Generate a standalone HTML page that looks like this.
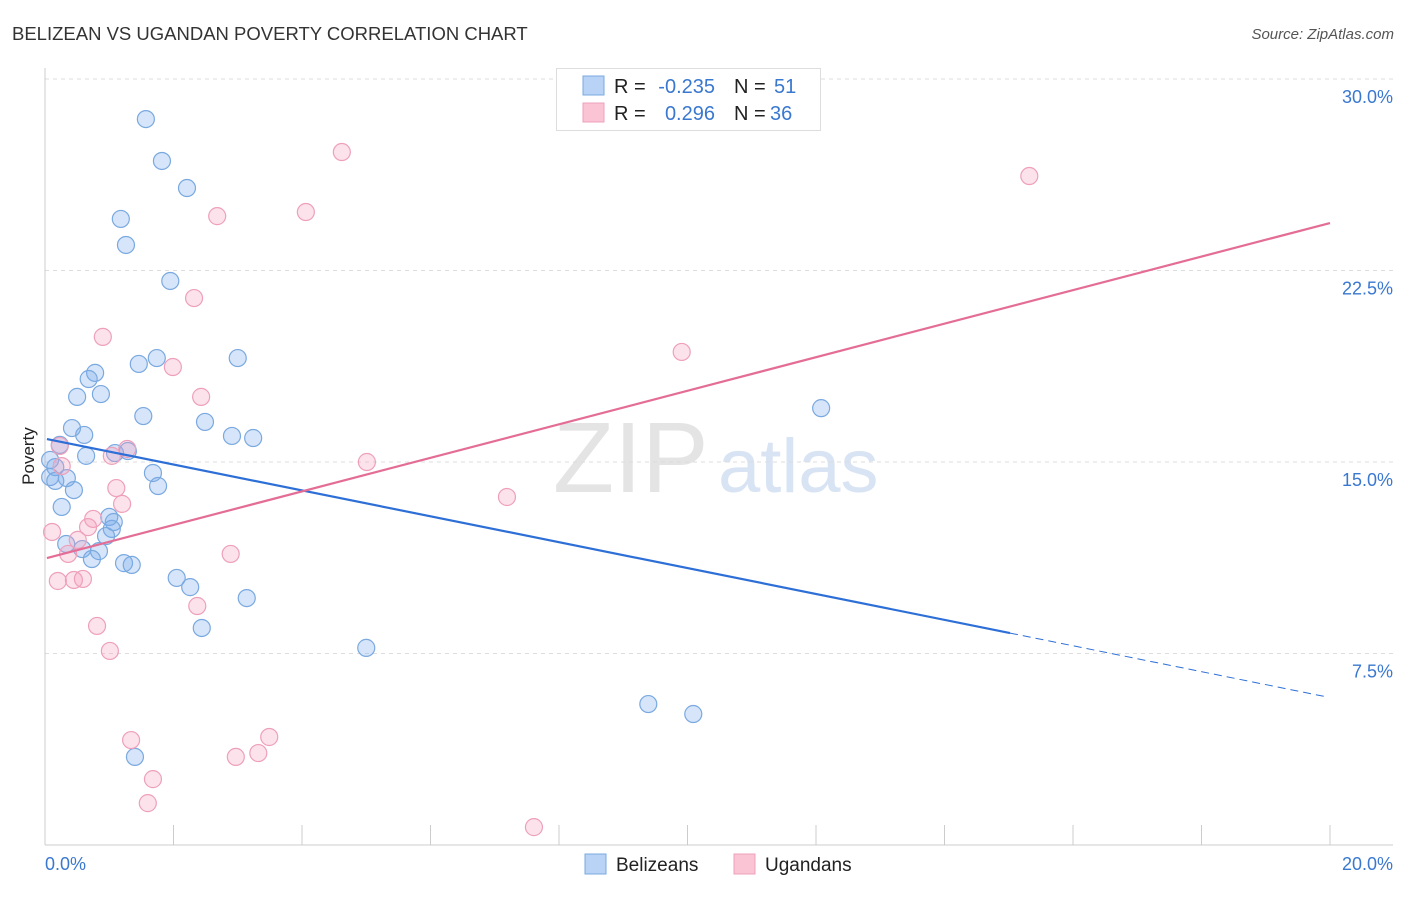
<!DOCTYPE html>
<html><head><meta charset="utf-8"><style>
body{margin:0;background:#fff;font-family:"Liberation Sans",sans-serif;}
svg text{font-family:"Liberation Sans",sans-serif;}
</style></head><body>
<svg id="c" width="1406" height="892" xmlns="http://www.w3.org/2000/svg">
<text x="12" y="40" font-size="18.5" fill="#333">BELIZEAN VS UGANDAN POVERTY CORRELATION CHART</text>
<text x="1394" y="39" font-size="15" fill="#555" font-style="italic" text-anchor="end">Source: ZipAtlas.com</text>
<text x="553" y="492" font-size="100" fill="#e4e4e4" font-family="Liberation Serif">ZIP</text>
<text x="718" y="492" font-size="76" fill="#d8e4f4">atlas</text>
<g id="grid"></g><g id="axes"></g><g id="marks"></g>
<text x="34" y="456" font-size="17" fill="#222" transform="rotate(-90 34 456)" text-anchor="middle">Poverty</text>
<g>
<rect x="556.5" y="68.5" width="264" height="62" fill="#fff" stroke="#ddd"/>
<rect x="583" y="76" width="21" height="19" fill="#b8d3f5" stroke="#7aa9e0"/>
<rect x="583" y="103" width="21" height="19" fill="#fac4d4" stroke="#eea0bb"/>
<text x="614" y="93" font-size="20" fill="#222">R =</text>
<text x="715" y="93" font-size="20" fill="#3a78d0" text-anchor="end">-0.235</text>
<text x="734" y="93" font-size="20" fill="#222">N =</text>
<text x="774" y="93" font-size="20" fill="#3a78d0">51</text>
<text x="614" y="120" font-size="20" fill="#222">R =</text>
<text x="715" y="120" font-size="20" fill="#3a78d0" text-anchor="end">0.296</text>
<text x="734" y="120" font-size="20" fill="#222">N =</text>
<text x="770" y="120" font-size="20" fill="#3a78d0">36</text>
</g>
<g>
<rect x="585" y="854" width="21" height="20" fill="#b8d3f5" stroke="#7aa9e0"/>
<text x="616" y="871" font-size="19" fill="#222">Belizeans</text>
<rect x="734" y="854" width="21" height="20" fill="#fac4d4" stroke="#eea0bb"/>
<text x="765" y="871" font-size="19" fill="#222">Ugandans</text>
</g>
</svg>
<script>
const yTicks=[30,22.5,15,7.5];
const yTickLabels=["30.0%","22.5%","15.0%","7.5%"];
const xTickLabels=["0.0%","20.0%"];
const blueX=[1.57,1.82,2.21,1.18,1.26,1.95,1.74,1.46,3.00,0.78,0.68,0.87,0.50,1.53,2.49,0.42,0.61,2.91,3.24,0.23,1.09,1.29,0.64,0.08,0.16,1.68,0.34,0.08,0.16,1.76,0.45,0.26,1.00,1.07,1.04,0.95,0.33,0.58,0.84,0.73,1.23,1.35,2.05,2.26,3.14,2.44,5.00,9.39,10.09,1.40,12.08];
const blueY=[28.43,26.79,25.73,24.52,23.50,22.09,19.07,18.84,19.07,18.49,18.25,17.66,17.55,16.80,16.57,16.33,16.06,16.02,15.94,15.67,15.35,15.43,15.24,15.08,14.80,14.57,14.37,14.41,14.26,14.06,13.90,13.24,12.85,12.65,12.38,12.10,11.79,11.59,11.51,11.20,11.04,10.97,10.46,10.10,9.67,8.50,7.72,5.52,5.13,3.45,17.11];
const pinkX=[4.62,15.32,2.68,4.06,2.32,0.90,1.99,9.91,2.43,0.23,1.28,1.04,0.26,5.01,1.11,7.19,1.20,0.11,0.75,0.67,0.51,0.36,2.89,0.20,0.45,0.59,2.37,0.81,1.01,3.49,1.34,3.32,2.97,1.68,1.60,7.61];
const pinkY=[27.14,26.20,24.63,24.79,21.42,19.90,18.72,19.31,17.55,15.63,15.51,15.24,14.84,15.00,13.98,13.63,13.36,12.26,12.77,12.45,11.95,11.40,11.40,10.34,10.38,10.42,9.36,8.58,7.60,4.23,4.11,3.60,3.45,2.58,1.64,0.70];
const blueTrendX=[0.03,15.02,19.95];
const blueTrendY=[15.9,8.3,5.8];
const pinkTrendX=[0.03,20];
const pinkTrendY=[11.24,24.36];
const X=v=>45+v/20*1285, Y=v=>845-v*25.533;
const NS="http://www.w3.org/2000/svg";
function mk(p,t,a){const e=document.createElementNS(NS,t);for(const k in a)e.setAttribute(k,a[k]);p.appendChild(e);return e;}
const grid=document.getElementById('grid'),axes=document.getElementById('axes'),marks=document.getElementById('marks');
yTicks.forEach((t,i)=>{
 const l=mk(grid,'line',{x1:45,x2:1393,y1:Y(t),y2:Y(t),stroke:'#ddd','stroke-dasharray':'4,4'});
 
 
 const tx=mk(axes,'text',{x:1393,y:Y(t)+24,'font-size':18,fill:'#3a78d0','text-anchor':'end'});
 tx.textContent=yTickLabels[i];
 
 
});
const la=mk(axes,'line',{x1:45,x2:45,y1:68,y2:845,stroke:'#ccc'});


const lb=mk(axes,'line',{x1:45,x2:1393,y1:845,y2:845,stroke:'#ccc'});


for(let i=1;i<=10;i++){
 const t=mk(axes,'line',{x1:X(i*2),x2:X(i*2),y1:825,y2:845,stroke:'#ccc'});
 
 
}
[[0,'start',45],[20,'end',1393]].forEach((d,i)=>{
 const tx=mk(axes,'text',{x:d[2],y:870,'font-size':18,fill:'#3a78d0','text-anchor':d[1]});
 tx.textContent=xTickLabels[i];
 
 
});
function pts(xs,ys,fill,stroke,name){
 xs.forEach((x,i)=>{
  const c=mk(marks,'circle',{cx:X(x),cy:Y(ys[i]),r:8.5,fill:fill,stroke:stroke,'stroke-width':1.2});
  
  
 });
}
pts(blueX,blueY,'rgba(120,170,235,0.3)','#7aa9e0','belizean-point');
pts(pinkX,pinkY,'rgba(245,160,190,0.3)','#eea0bb','ugandan-point');
const b1=mk(marks,'line',{x1:X(blueTrendX[0]),y1:Y(blueTrendY[0]),x2:X(blueTrendX[1]),y2:Y(blueTrendY[1]),stroke:'#2d6fd6','stroke-width':2.2});


const b2=mk(marks,'line',{x1:X(blueTrendX[1]),y1:Y(blueTrendY[1]),x2:X(blueTrendX[2]),y2:Y(blueTrendY[2]),stroke:'#2d6fd6','stroke-width':1,'stroke-dasharray':'8,5'});


const p1=mk(marks,'line',{x1:X(pinkTrendX[0]),y1:Y(pinkTrendY[0]),x2:X(pinkTrendX[1]),y2:Y(pinkTrendY[1]),stroke:'#e46d96','stroke-width':2.2});


</script>
</body></html>
